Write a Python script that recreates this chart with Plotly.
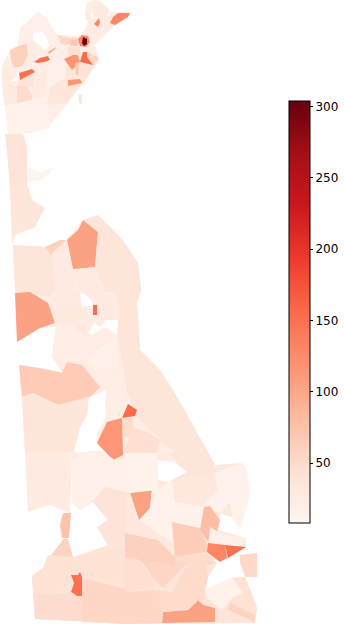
import plotly.graph_objects as go
from plotly.colors import sample_colorscale, sequential

value_min = 8
value_max = 304
colorbar_ticks = [50, 100, 150, 200, 250, 300]

# Broad background areas (outer ring first, then any holes).
area_values = [20, 24, 24, 30, 36]
area_rings = [
    [[(2,65),(10,50),(18,46),(20,28),(38,12),(48,20),(55,33),(60,35),(78,36),(85,30),(88,20),(85,13),(87,2),(95,0),(102,2),(110,12),(130,12),(128,17),(115,25),(102,37),(95,45),(99,60),(87,78),(67,103),(50,125),(49,128),(30,133),(8,134),(5,106)],
     [(33,33),(33,40),(45,50),(49,46),(47,38),(43,31)],
     [(7,81),(16,81),(20,78),(19,73),(12,75)],
     [(90,13),(92,19),(100,18),(100,13)],
     [(102,11),(103,19),(111,19),(110,12)]],
    [[(15,293),(50,295),(78,292),(82,307),(92,306),(90,290),(141,290),(137,303),(140,350),(160,370),(176,395),(215,465),(130,458),(73,453),(25,453),(22,397),(19,365),(62,372),(52,357),(56,327),(40,328),(17,342)],
     [(88,333),(92,335),(107,328),(117,335),(122,327),(118,315),(107,313),(105,322),(100,327),(95,323)],
     [(89,397),(87,415),(80,427),(74,452),(108,452),(97,445),(97,434),(105,420),(106,390)]],
    [[(13,245),(45,247),(66,240),(83,220),(98,215),(123,240),(138,263),(141,292),(15,295)]],
    [[(72,453),(215,465),(242,463),(250,493),(240,528),(232,517),(220,514),(218,530),(246,538),(246,547),(228,558),(175,565),(108,545),(97,527),(108,520),(93,502),(80,510),(72,503)],
     [(157,454),(158,480),(168,482),(172,480),(187,472),(168,457)]],
    [[(50,557),(73,557),(108,545),(130,540),(175,557),(217,563),(208,577),(205,590),(232,578),(245,577),(257,607),(255,623),(125,624),(35,619),(32,576),(43,568)]],
]

tract_values = [
    18, 60, 22, 25, 28, 50, 38, 28, 26, 16, 14,
    38, 12, 34, 36, 60, 105, 36, 28, 28,
    105, 28, 30, 25, 150, 26, 35, 20, 16, 20, 66, 34, 155, 115, 50, 46,
    26, 16, 38, 75, 58, 42, 150, 48, 42, 54,
    105, 14, 36, 33, 13, 14, 14, 33, 64, 78, 18, 130, 150, 50, 52, 42, 14, 58, 105, 50, 46, 55, 60, 54,
    35, 25, 55, 115, 155, 38, 70, 115, 35, 55, 25, 130, 130, 25, 45,
    150, 150, 100, 70, 130, 300,
]
tract_outlines = [
    [(20,28),(38,12),(48,20),(55,33),(57,43),(50,47),(47,37),(42,30),(32,32),(27,43),(20,33)],
    [(10,50),(18,46),(27,44),(28,55),(22,66),(14,68),(11,60)],
    [(27,43),(33,40),(45,50),(47,50),(40,58),(33,62),(24,66),(28,55)],
    [(2,65),(15,72),(18,76),(8,82),(2,83)],
    [(2,83),(8,82),(17,86),(17,105),(4,105)],
    [(17,86),(27,86),(32,95),(33,105),(17,105)],
    [(19,80),(35,72),(38,82),(33,88),(27,86),(17,86)],
    [(33,76),(47,72),(47,85),(42,90),(33,88)],
    [(33,88),(45,88),(47,96),(33,105),(32,95)],
    [(48,56),(66,62),(72,80),(67,103),(47,105),(47,85),(47,70)],
    [(5,106),(47,96),(50,125),(49,128),(30,133),(8,134)],
    [(5,134),(23,134),(27,147),(27,183),(10,192),(8,163)],
    [(27,167),(40,172),(54,167),(48,175),(40,180),(27,182)],
    [(10,192),(27,183),(32,200),(45,208),(35,227),(15,235),(12,245)],
    [(13,245),(45,247),(52,257),(55,290),(50,297),(30,293),(18,295),(15,288)],
    [(45,247),(60,240),(66,240),(52,256)],
    [(67,240),(78,230),(83,220),(98,232),(95,267),(73,269)],
    [(83,220),(98,215),(110,227),(123,240),(138,263),(141,290),(137,303),(140,350),(160,370),(176,395),(215,465),(200,472),(160,440),(135,415),(127,390),(117,333),(118,320),(100,300),(95,267),(98,232)],
    [(52,253),(67,240),(73,270),(75,290),(60,297),(55,290)],
    [(73,270),(95,267),(105,290),(92,300),(80,290)],
    [(15,293),(30,292),(48,303),(55,323),(40,328),(17,342)],
    [(50,295),(80,292),(82,310),(52,307)],
    [(52,308),(82,310),(80,326),(55,323)],
    [(82,307),(91,306),(92,322),(84,327)],
    [(93,305),(98,305),(97,315),(93,315)],
    [(97,292),(115,292),(120,310),(118,320),(105,320),(100,322),(97,313)],
    [(75,327),(85,324),(88,335),(80,340),(75,338)],
    [(56,327),(75,327),(87,338),(103,328),(115,333),(90,353),(77,363),(67,360),(52,357)],
    [(117,335),(117,367),(103,367),(95,372),(87,358)],
    [(100,366),(110,367),(117,380),(128,403),(122,418),(107,420),(105,400),(107,390),(97,378)],
    [(19,365),(40,368),(62,373),(67,362),(82,365),(100,387),(90,397),(58,405),(33,393),(22,397)],
    [(22,397),(33,393),(58,405),(88,397),(87,415),(80,427),(73,453),(25,453)],
    [(128,404),(137,410),(135,416),(122,418)],
    [(107,422),(122,418),(123,455),(113,460),(97,443)],
    [(122,418),(132,418),(135,435),(124,437)],
    [(132,427),(147,432),(160,440),(157,453),(133,458),(124,453)],
    [(25,453),(72,452),(70,513),(50,505),(28,512)],
    [(72,460),(83,452),(100,450),(115,460),(130,457),(130,493),(105,487),(93,500),(80,510),(72,503)],
    [(93,502),(105,487),(130,493),(130,540),(108,545),(97,527),(108,520)],
    [(60,525),(63,513),(71,513),(69,538),(62,538)],
    [(50,557),(63,539),(68,539),(73,557)],
    [(32,576),(43,568),(48,555),(73,557),(80,572),(82,578),(72,582),(53,595),(33,593)],
    [(71,575),(78,575),(80,572),(82,577),(82,596),(77,596),(71,592),(74,583)],
    [(33,593),(53,595),(71,592),(77,596),(82,597),(82,621),(35,619)],
    [(75,557),(100,553),(130,547),(130,585),(83,577)],
    [(82,578),(130,590),(130,624),(82,622)],
    [(130,493),(152,489),(150,508),(139,520)],
    [(125,453),(157,453),(158,490),(130,493)],
    [(168,453),(200,450),(218,473),(172,480),(187,472)],
    [(172,480),(215,473),(218,490),(175,502)],
    [(215,473),(242,463),(247,470),(250,493),(232,500),(220,513),(202,507),(218,490)],
    [(230,500),(250,493),(240,528),(232,517)],
    [(168,482),(172,480),(175,502),(204,507),(200,530),(172,522),(173,543),(158,533),(140,520),(150,508),(152,489),(158,490)],
    [(125,493),(130,493),(139,520),(158,540),(125,533)],
    [(172,522),(200,528),(208,547),(207,552),(175,557)],
    [(204,507),(210,506),(220,520),(217,532),(208,542),(200,530)],
    [(210,527),(220,533),(245,538),(245,545),(225,547),(208,545)],
    [(207,552),(208,543),(225,545),(227,558),(220,562)],
    [(225,545),(246,547),(228,558)],
    [(175,557),(207,553),(217,563),(207,565),(175,565)],
    [(240,555),(257,553),(257,577),(245,577),(240,563)],
    [(232,578),(245,577),(257,607),(255,623),(228,610),(228,605),(232,598),(243,593)],
    [(205,590),(225,580),(232,578),(243,593),(232,598),(222,610),(215,605),(207,597)],
    [(230,603),(240,608),(255,615),(255,622),(228,610)],
    [(163,612),(188,610),(198,600),(203,605),(215,608),(215,622),(162,623)],
    [(153,590),(172,592),(188,563),(205,563),(208,577),(205,590),(205,600),(198,600),(188,610),(163,612),(158,600)],
    [(125,558),(135,558),(153,578),(153,588),(135,590),(125,592)],
    [(143,563),(162,562),(187,563),(168,583),(163,588),(153,578)],
    [(125,533),(158,540),(175,557),(175,567),(162,562),(143,563),(135,558),(125,558)],
    [(125,592),(153,590),(158,600),(163,612),(162,623),(125,624)],
    [(66,62),(80,55),(99,60),(87,78),(67,103),(47,105),(50,87),(65,78)],
    [(93,3),(102,3),(109,10),(110,13),(103,18),(93,17)],
    [(87,52),(99,58),(93,65),(87,57)],
    [(64,59),(77,53),(80,62),(72,70)],
    [(80,62),(83,52),(87,52),(87,57),(93,65),(86,63)],
    [(78,62),(93,66),(87,78),(80,76)],
    [(75,63),(79,62),(78,75),(76,75)],
    [(68,80),(80,79),(82,83),(73,85),(68,86)],
    [(78,94),(82,95),(82,105),(79,103)],
    [(58,35),(68,38),(78,38),(80,45),(75,43),(65,45),(60,43)],
    [(88,30),(90,20),(100,18),(115,14),(115,25),(102,37),(90,33)],
    [(94,24),(99,18),(100,23),(98,27)],
    [(110,23),(113,17),(118,13),(130,13),(128,17),(115,25)],
    [(85,13),(90,13),(90,20),(86,20)],
    [(68,47),(80,47),(80,55),(68,55)],
    [(19,73),(32,69),(35,72),(26,77),(20,80)],
    [(34,62),(40,58),(48,56),(50,60),(44,62),(38,63)],
    [(48,52),(56,47),(55,49),(49,54)],
    [(70,40),(77,40),(78,46),(70,46)],
    [(78,39),(82,35),(88,36),(90,42),(86,47),(80,46)],
    [(83,37),(87,39),(87,44),(84,46),(82,43)],
]

reds = sequential.Reds
fig = go.Figure()


def add_region(value, rings):
    xs, ys = [], []
    for ring in rings:
        xs += [p[0] for p in ring] + [ring[0][0], None]
        ys += [p[1] for p in ring] + [ring[0][1], None]
    fraction = (value - value_min) / (value_max - value_min)
    fig.add_trace(go.Scatter(
        x=xs, y=ys, mode="lines", fill="toself",
        fillcolor=sample_colorscale(reds, [fraction])[0],
        line=dict(width=0), showlegend=False, hoverinfo="skip",
    ))


for value, rings in zip(area_values, area_rings):
    add_region(value, rings)
for value, outline in zip(tract_values, tract_outlines):
    add_region(value, [outline])

fig.add_trace(go.Scatter(
    x=[None, None], y=[None, None], mode="markers", showlegend=False,
    marker=dict(color=[value_min, value_max], coloraxis="coloraxis"),
))
fig.update_layout(
    width=344, height=624, autosize=False,
    margin=dict(l=0, r=0, t=0, b=0),
    paper_bgcolor="white", plot_bgcolor="white",
    font=dict(family="DejaVu Sans", color="black", size=12),
    xaxis=dict(range=[0, 344], visible=False, fixedrange=True),
    yaxis=dict(range=[624, 0], visible=False, fixedrange=True),
    coloraxis=dict(
        colorscale=reds, cmin=value_min, cmax=value_max,
        colorbar=dict(
            thickness=21, thicknessmode="pixels", len=422, lenmode="pixels",
            x=289 / 344, xanchor="left", xpad=0, ypad=0,
            y=1 - 101 / 624, yanchor="top",
            outlinecolor="black", outlinewidth=1,
            tickvals=colorbar_ticks, ticks="outside", ticklen=3, tickwidth=1,
            tickcolor="black", tickfont=dict(size=12, family="DejaVu Sans"),
        ),
    ),
)
fig.write_html(
    "out.html", config=dict(displayModeBar=False),
    post_script="document.body.style.margin='0';document.body.style.overflow='hidden';",
)
